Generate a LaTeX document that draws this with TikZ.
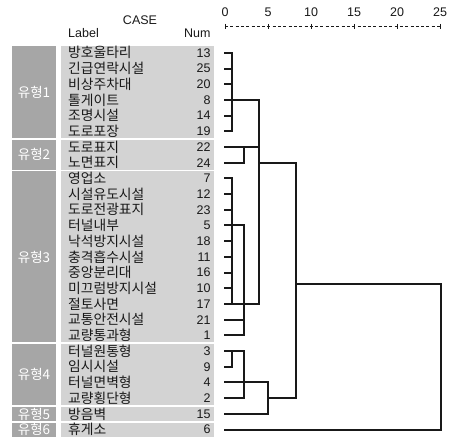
\documentclass[tikz,border=0pt]{standalone}
\usepackage{fontspec}
\setmainfont{Liberation Sans}
\newfontfamily\kr{Noto Sans CJK KR}
\definecolor{grpdark}{RGB}{166,166,166}
\definecolor{grplight}{RGB}{211,211,211}
\definecolor{ink}{RGB}{25,25,25}
\begin{document}
\begin{tikzpicture}[x=1pt,y=-1pt,
  lab/.style={anchor=west,inner sep=0pt,font=\kr\fontsize{13.8}{13.8}\selectfont,text=ink},
  num/.style={anchor=east,inner sep=0pt,font=\fontsize{12.5}{12.5}\selectfont,text=ink},
  hdr/.style={inner sep=0pt,font=\fontsize{12.5}{12.5}\selectfont,text=ink},
  grplab/.style={inner sep=0pt,font=\kr\fontsize{13.5}{13.5}\selectfont,text=white},
  tree/.style={line width=1.6pt,draw=ink,line cap=rect},
  axisline/.style={line width=0.9pt,draw=ink,dash pattern=on 3pt off 2.3pt},
  axistick/.style={line width=0.9pt,draw=ink}]
\useasboundingbox[fill=white] (0,0) rectangle (454,441);

% group panels
\foreach \a/\b/\n in {1/6/1,7/8/2,9/19/3,20/23/4,24/24/5,25/25/6}{
  \pgfmathsetmacro\ytop{52.8+15.7*(\a-1.5)+0.8}
  \pgfmathsetmacro\ybot{52.8+15.7*(\b-0.5)-0.8}
  \pgfmathsetmacro\ymid{(\ytop+\ybot)/2}
  \fill[grpdark] (11.7,\ytop) rectangle (56,\ybot);
  \fill[grplight] (61,\ytop) rectangle (213.5,\ybot);
  \node[grplab] (g\n) at (34,\ymid) {유형\n};
}

% header
\node[hdr] (case) at (140,20) {CASE};
\node[hdr,anchor=west] (labh) at (68,33.5) {Label};
\node[hdr,anchor=east] (numh) at (210.7,33.5) {Num};

% axis
\foreach \k in {0,...,5}{
  \pgfmathtruncatemacro\v{5*\k}
  \node[hdr] (ax\k) at (225+43*\k,12) {\v};
  \coordinate (A\k) at (225+43*\k,26.5);
  \draw[axistick] (A\k) ++(0,-2.6) -- ++(0,5.2);
}
\draw[axisline] (A0) -- (A5);

% rows
\foreach \lbl/\num [count=\i] in {방호울타리/13,긴급연락시설/25,비상주차대/20,톨게이트/8,조명시설/14,도로포장/19,도로표지/22,노면표지/24,영업소/7,시설유도시설/12,도로전광표지/23,터널내부/5,낙석방지시설/18,충격흡수시설/11,중앙분리대/16,미끄럼방지시설/10,절토사면/17,교통안전시설/21,교량통과형/1,터널원통형/3,임시시설/9,터널면벽형/4,교량횡단형/2,방음벽/15,휴게소/6}{
  \pgfmathsetmacro\yy{52.8+15.7*(\i-1)}
  \pgfmathsetmacro\yl{round(\yy)}
  \node[lab] (t\i) at (68,\yy) {\lbl};
  \node[num] (n\i) at (210.7,\yy) {\num};
  \coordinate (L\i) at (225,\yl);
}

% dendrogram levels
\coordinate (X1) at (232,0);
\coordinate (X2) at (244,0);
\coordinate (X3) at (259,0);
\coordinate (X4) at (268,0);
\coordinate (X5) at (296,0);
\coordinate (X6) at (441,0);
\coordinate (top) at (296,284);

% group 1
\foreach \i in {1,...,6}{\draw[tree] (L\i) -- (L\i-|X1);}
\draw[tree] (L1-|X1) -- (L6-|X1);
\draw[tree] (L4-|X1) -- (L4-|X3);
% group 2
\draw[tree] (L7) -- (L7-|X3);
\draw[tree] (L8) -- (L8-|X2);
\draw[tree] (L7-|X2) -- (L8-|X2);
% group 3
\foreach \i in {9,...,17}{\draw[tree] (L\i) -- (L\i-|X1);}
\draw[tree] (L9-|X1) -- (L17-|X1);
\draw[tree] (L12-|X1) -- (L12-|X2);
\draw[tree] (L18) -- (L18-|X2);
\draw[tree] (L19) -- (L19-|X2);
\draw[tree] (L12-|X2) -- (L19-|X2);
\draw[tree] (L17-|X1) -- (L17-|X3);
\draw[tree] (L4-|X3) -- (L17-|X3);
\draw[tree] (L8-|X3) -- (L8-|X5);
% group 4
\draw[tree] (L20) -- (L20-|X2);
\draw[tree] (L21) -- (L21-|X1);
\draw[tree] (L20-|X1) -- (L21-|X1);
\draw[tree] (L20-|X2) -- (L23-|X2);
\draw[tree] (L22) -- (L22-|X4);
\draw[tree] (L23) -- (L23-|X2);
\draw[tree] (L24) -- (L24-|X4);
\draw[tree] (L22-|X4) -- (L24-|X4);
\draw[tree] (L23-|X4) -- (L23-|X5);
\draw[tree] (L8-|X5) -- (L23-|X5);
% final merge
\draw[tree] (top) -- (top-|X6) -- (L25-|X6) -- (L25);
\end{tikzpicture}
\end{document}
